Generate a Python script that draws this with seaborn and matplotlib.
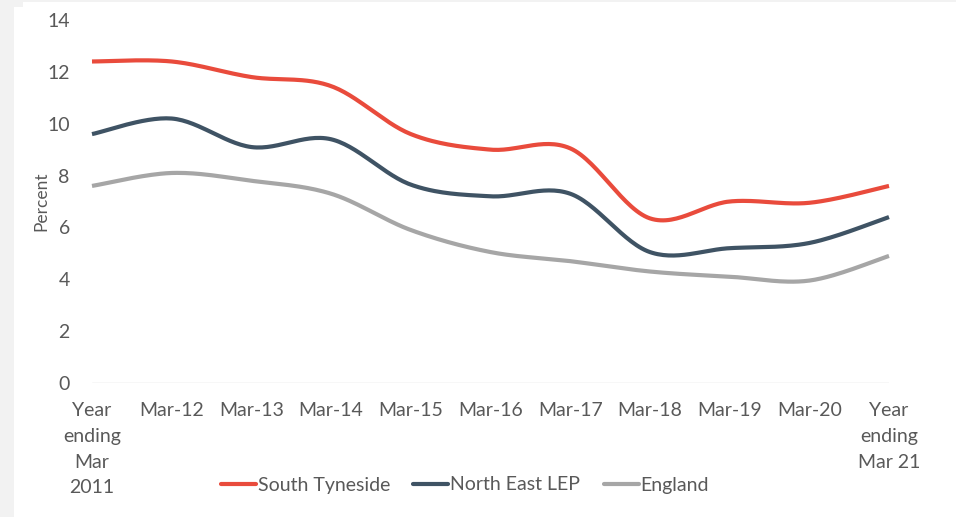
import numpy as np
import pandas as pd
import matplotlib
matplotlib.use("Agg")
import matplotlib.pyplot as plt
from matplotlib.lines import Line2D
from matplotlib.patches import Rectangle
import seaborn as sns

# Period labels along the x axis
periods = ["Year\nending\nMar\n2011", "Mar-12", "Mar-13", "Mar-14", "Mar-15",
           "Mar-16", "Mar-17", "Mar-18", "Mar-19", "Mar-20", "Year\nending\nMar 21"]

# Unemployment rate (%) by area
south_tyneside = [12.4, 12.4, 11.8, 11.45, 9.6, 9.0, 9.05, 6.35, 7.0, 6.95, 7.6]
north_east_lep = [9.6, 10.2, 9.1, 9.4, 7.65, 7.2, 7.3, 5.05, 5.2, 5.4, 6.4]
england = [7.6, 8.1, 7.8, 7.3, 5.9, 5.05, 4.7, 4.3, 4.1, 3.95, 4.9]

series_names = ["South Tyneside", "North East LEP", "England"]
series_values = [south_tyneside, north_east_lep, england]
colors = ["#E94B3C", "#3F5364", "#A6A6A6"]

yticks = [0, 2, 4, 6, 8, 10, 12, 14]


def smooth(y, steps=30):
    """Catmull-Rom curve through the points (like a spreadsheet smoothed line)."""
    y = np.asarray(y, dtype=float)
    x = np.arange(len(y), dtype=float)
    px = np.concatenate([[x[0]], x, [x[-1]]])
    py = np.concatenate([[y[0]], y, [y[-1]]])
    xs, ys = [], []
    for i in range(1, len(px) - 2):
        t = np.linspace(0, 1, steps, endpoint=(i == len(px) - 3))
        for arr, out in ((px, xs), (py, ys)):
            p0, p1, p2, p3 = arr[i - 1], arr[i], arr[i + 1], arr[i + 2]
            out.extend(0.5 * ((2 * p1) + (-p0 + p2) * t
                              + (2 * p0 - 5 * p1 + 4 * p2 - p3) * t ** 2
                              + (-p0 + 3 * p1 - 3 * p2 + p3) * t ** 3))
    return np.array(xs), np.array(ys)


frames = []
for name, vals in zip(series_names, series_values):
    sx, sy = smooth(vals)
    frames.append(pd.DataFrame({"x": sx, "value": sy, "area": name}))
df = pd.concat(frames, ignore_index=True)

sns.set_theme(style="white")
plt.rcParams["font.family"] = ["Lato", "DejaVu Sans"]
text_color = "#595959"
fs = 14

W, H = 956, 517
fig = plt.figure(figsize=(W / 100, H / 100), dpi=100)
fig.patch.set_facecolor("#F2F2F2")
fig.patches.append(Rectangle((14 / W, 0), 1, 1 - 7 / H, transform=fig.transFigure,
                             facecolor="white", edgecolor="none", zorder=-10))
fig.patches.append(Rectangle((23 / W, 0), 1, 1 - 2 / H, transform=fig.transFigure,
                             facecolor="white", edgecolor="none", zorder=-10))

ax = fig.add_axes([92 / W, (H - 383) / H, 797 / W, 363 / H])
ax.set_facecolor("none")

sns.lineplot(data=df, x="x", y="value", hue="area", hue_order=series_names,
             palette=colors, linewidth=3.0, sort=False, estimator=None,
             legend=False, ax=ax)
for ln in ax.get_lines():
    ln.set_clip_on(False)
    ln.set_solid_capstyle("butt")

ax.axhline(0, color="#D9D9D9", linewidth=1.0, zorder=0)

ax.set_xlim(0, 10)
ax.set_ylim(0, 14)
ax.set_yticks(yticks)
ax.set_yticklabels([str(v) for v in yticks], fontsize=fs, color=text_color)
ax.set_xticks(range(len(periods)))
ax.set_xticklabels(periods, fontsize=fs, color=text_color, linespacing=1.62,
                   va="top")
ax.tick_params(axis="y", length=0, pad=16)
ax.tick_params(axis="x", length=0, pad=14)
for s in ax.spines.values():
    s.set_visible(False)

ax.set_xlabel("")
ax.set_ylabel("Percent", fontsize=12.5, color=text_color)
ax.yaxis.set_label_coords((49 - 92) / 797, 0.5)

handles = [Line2D([], [], color=c, linewidth=3.0) for c in colors]
fig.legend(handles, series_names, loc="center", bbox_to_anchor=(465 / W, 1 - 485 / H),
           ncol=3, frameon=False, fontsize=fs, handlelength=1.8,
           handletextpad=0.1, columnspacing=1.2, labelcolor=text_color)

fig.savefig("out.png", dpi=100, facecolor=fig.get_facecolor())
